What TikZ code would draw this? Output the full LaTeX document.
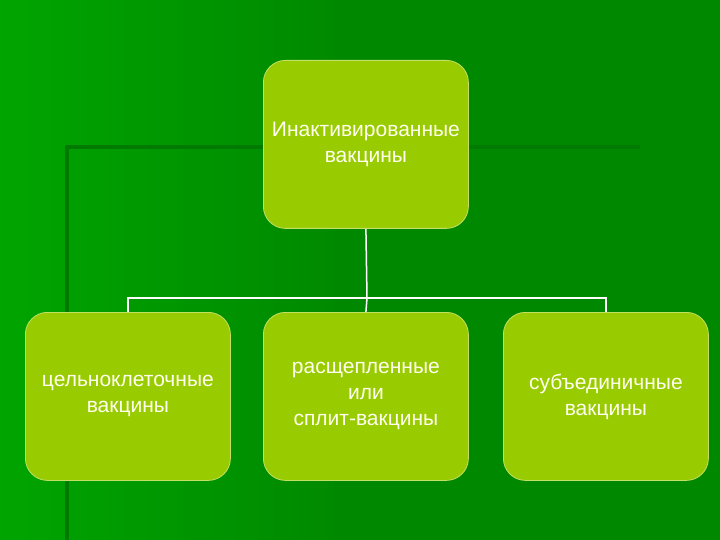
\documentclass[tikz,border=0pt]{standalone}
\usepackage{fontspec}
\setmainfont{Liberation Sans}
\definecolor{bgA}{HTML}{008800}
\definecolor{bgB}{HTML}{00B800}
\definecolor{frameG}{HTML}{007A00}
\definecolor{boxG}{HTML}{99CC00}
\definecolor{txt}{HTML}{FFFFF0}
\begin{document}
\begin{tikzpicture}[x=1pt,y=-1pt,
  box/.style={draw=boxG!60!white,line width=0.8pt,fill=boxG,rounded corners=22pt,minimum width=205pt,minimum height=168pt,text=txt,font=\fontsize{21}{26}\selectfont,align=center,anchor=north west,inner sep=0pt},
  conn/.style={draw=white,line width=1.5pt}]
\useasboundingbox (0,0) rectangle (720,540);
\shade[left color=bgB,right color=bgA,middle color=bgA] (0,0) rectangle (720,540);
\fill[bgA,opacity=0.4] (0,0) rectangle (720,540);
\draw[frameG,line width=4pt] (67,540) -- (67,147) -- (640,147);
\node[box] (top) at (263,60) {Инактивированные\\вакцины};
\node[box] (a) at (25,312) {цельноклеточные\\вакцины};
\node[box] (b) at (263,312) {расщепленные\\или\\сплит-вакцины};
\node[box] (c) at (503,312) {субъединичные\\вакцины};
\coordinate (j) at (367,298);
\draw[conn] (top.south) -- (j);
\draw[conn] (a.north) |- (j) -| (c.north);
\draw[conn] (j) -- (b.north);
\end{tikzpicture}
\end{document}
